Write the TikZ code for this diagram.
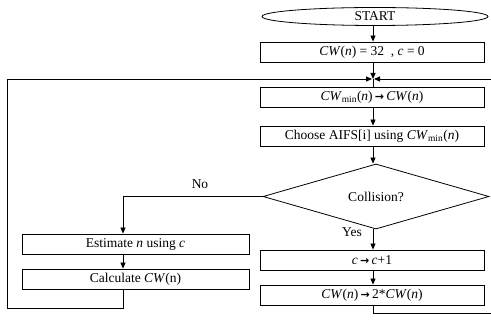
\documentclass[tikz,border=0pt]{standalone}
\usepackage{fontspec}
\setmainfont{Liberation Serif}
\newfontfamily\arrfont{DejaVu Sans}
\usetikzlibrary{shapes.geometric,arrows.meta,calc}
\newcommand\mnsub{\textsubscript{min}}
\newcommand\ar{\,{\arrfont\bfseries\fontsize{11}{12}\selectfont →}\,}
\tikzset{
  box/.style={draw,line width=0.8pt,minimum height=20pt,inner sep=0pt,font=\fontsize{13.5}{14}\selectfont},
  rbox/.style={box,minimum width=224pt},
  lbox/.style={box,minimum width=227pt},
  lbl/.style={font=\fontsize{13.5}{14}\selectfont,inner sep=0pt},
  conn/.style={line width=0.8pt},
  arr/.style={conn,-{Triangle[length=6pt,width=5pt]}}
}
\begin{document}
\begin{tikzpicture}[x=1pt,y=-1pt]
\useasboundingbox (0,0) rectangle (491,320);
\node[draw,line width=0.8pt,ellipse,minimum width=226pt,minimum height=18pt,inner sep=0pt,font=\fontsize{13.5}{14}\selectfont] (start) at (375,16.5) {START};
\node[rbox] (b1) at (372,52) {\textit{CW}(\textit{n}) = 32\enspace, \textit{c} = 0};
\coordinate (m) at (373,79);
\coordinate (ml) at (7,79);
\coordinate (mr) at (491,79);
\node[rbox] (b2) at (372,97) {\textit{CW}\mnsub(\textit{n})\ar\textit{CW}(\textit{n})};
\node[rbox] (b3) at (372,136) {Choose AIFS[i] using \textit{CW}\mnsub(\textit{n})};
\node[draw,line width=0.8pt,diamond,minimum width=226pt,minimum height=43pt,inner sep=0pt,font=\fontsize{13.5}{14}\selectfont] (d) at (376,196.5) {Collision?};
\node[rbox] (b4) at (372,260) {\textit{c}\ar\textit{c}+1};
\node[rbox] (b5) at (372,295) {\textit{CW}(\textit{n})\ar 2*\textit{CW}(\textit{n})};
\coordinate (rb) at (373,313);
\coordinate (rbe) at (491,313);
\coordinate (col) at (123,0);
\node[lbox] (e) at (135.5,244) {Estimate \textit{n} using \textit{c}};
\node[lbox] (c) at (135.5,279) {Calculate \textit{CW}(n)};
\coordinate (lb) at (123,308);
\coordinate (lbe) at (7,308);
\node[lbl] (no) at (200,184) {No};
\node[lbl] (yes) at (352,232) {Yes};
% connectors
\draw[arr] (start.south -| m) -- (b1.north -| m);
\draw[arr] (b1.south -| m) -- (m);
\draw[conn] (m) -- (b2.north -| m);
\draw[arr] (ml) -- ($(m)+(-1,0)$);
\draw[arr] (mr) -- ($(m)+(1,0)$);
\draw[arr] (b2.south -| m) -- (b3.north -| m);
\draw[arr] (b3.south -| m) -- (d.north -| m);
\draw[arr] (d.south -| m) -- (b4.north -| m);
\draw[arr] (b4.south -| m) -- (b5.north -| m);
\draw[conn] (b5.south -| m) -- (rb) -- (rbe);
\draw[arr] (d.west) -- (d.west -| col) -- (e.north -| col);
\draw[arr] (e.south -| col) -- (c.north -| col);
\draw[conn] (c.south -| col) -- (lb) -- (lbe) -- (ml);
\end{tikzpicture}
\end{document}
